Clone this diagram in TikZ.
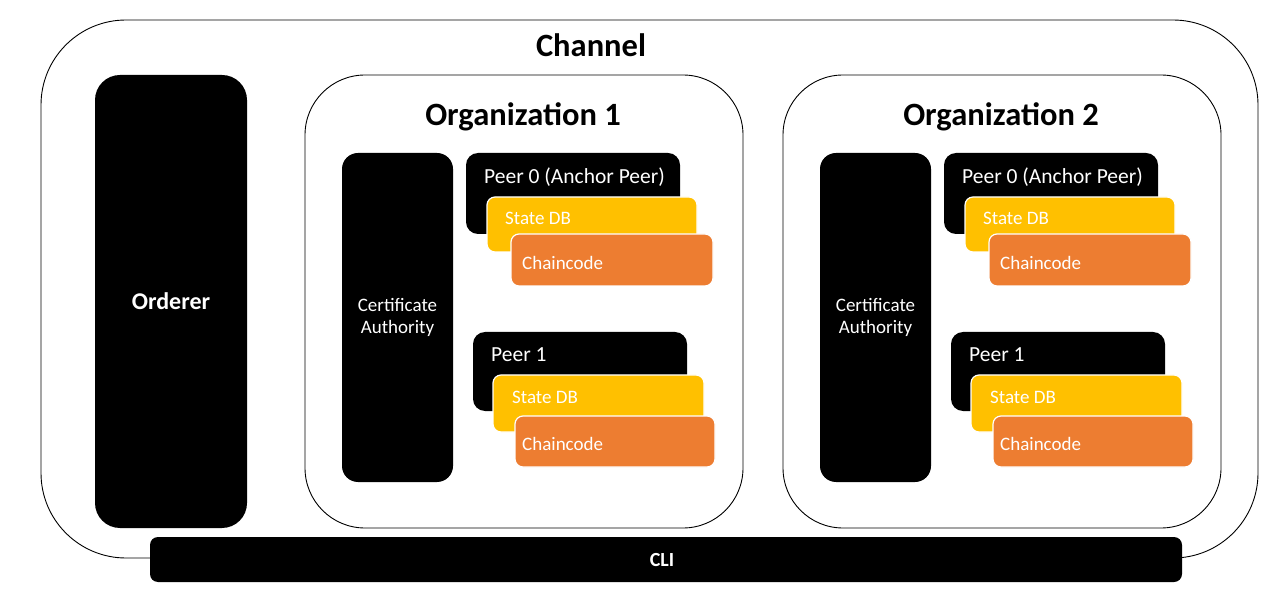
\documentclass[tikz,border=0pt]{standalone}
\usepackage{fontspec}
\setmainfont{Carlito}
\usepackage{tikz}
\definecolor{dbyellow}{HTML}{FFC000}
\definecolor{ccorange}{HTML}{ED7D31}
\tikzstyle{frame}=[draw=black,line width=0.9pt,fill=white,inner sep=0pt]
\tikzstyle{blk}=[fill=black,text=white,inner sep=0pt,rounded corners=12pt]
\tikzstyle{sdb}=[fill=dbyellow,draw=white,line width=1.2pt,inner sep=0pt,rounded corners=8pt]
\tikzstyle{cc}=[fill=ccorange,draw=white,line width=1.2pt,inner sep=0pt,rounded corners=8pt]
\tikzstyle{wtxt}=[text=white,inner sep=0pt,font=\fontsize{19}{22}\selectfont]
\newcommand{\titlefont}{\fontsize{32.5}{38}\selectfont\bfseries}

\begin{document}
\begin{tikzpicture}[x=1pt,y=-1pt]
    \useasboundingbox (0,0) rectangle (1285,593);
    \node[frame,rounded corners=85pt,minimum width=1217pt,minimum height=538pt] (channel) at (649.5,289) {};
    \node[inner sep=0pt,font=\titlefont] (channelt) at (591,45) {Channel};
    \node[blk,rounded corners=25pt,minimum width=152pt,minimum height=453pt,font=\fontsize{24}{29}\selectfont\bfseries] (orderer) at (171,301.5) {Orderer};
    \foreach \o/\dx in {1/0,2/478} {
      \begin{scope}[xshift=\dx]
        \node[frame,rounded corners=60pt,minimum width=438pt,minimum height=453pt] (org\o) at (524,301.5) {};
        \node[inner sep=0pt,font=\titlefont] (org\o t) at (523,117) {Organization \o};
        \node[blk,rounded corners=16pt,minimum width=111pt,minimum height=329pt,align=center,font=\fontsize{19}{22}\selectfont] (ca\o) at (397.5,317.5) {Certificate\\Authority};
        % peer 0
        \node[blk,minimum width=214pt,minimum height=81pt] (p0\o) at (573,193.5) {};
        \node[wtxt,font=\fontsize{21.5}{25}\selectfont,anchor=west] (p0\o t) at (484,177) {Peer 0 (Anchor Peer)};
        \node[sdb,minimum width=210pt,minimum height=55pt] (sdb0\o) at (592,224.5) {};
        \node[wtxt,anchor=west] (sdb0\o t) at (505,218) {State DB};
        \node[cc,minimum width=202pt,minimum height=52pt] (cc0\o) at (612,260) {};
        \node[wtxt,anchor=west] (cc0\o t) at (522,263) {Chaincode};
        % peer 1
        \node[blk,minimum width=214pt,minimum height=79pt] (p1\o) at (580,371.5) {};
        \node[wtxt,font=\fontsize{21.5}{25}\selectfont,anchor=west] (p1\o t) at (491,355) {Peer 1};
        \node[sdb,minimum width=211pt,minimum height=57pt] (sdb1\o) at (598.5,403.5) {};
        \node[wtxt,anchor=west] (sdb1\o t) at (512,397) {State DB};
        \node[cc,minimum width=200pt,minimum height=51pt] (cc1\o) at (615,441.5) {};
        \node[wtxt,anchor=west] (cc1\o t) at (522,444) {Chaincode};
      \end{scope}
    }
    \node[blk,rounded corners=8pt,minimum width=1032pt,minimum height=45pt] (cli) at (666,559.5) {};
    \node[wtxt,font=\fontsize{20}{24}\selectfont\bfseries] (clit) at (662,560) {CLI};
\end{tikzpicture}
\end{document}
